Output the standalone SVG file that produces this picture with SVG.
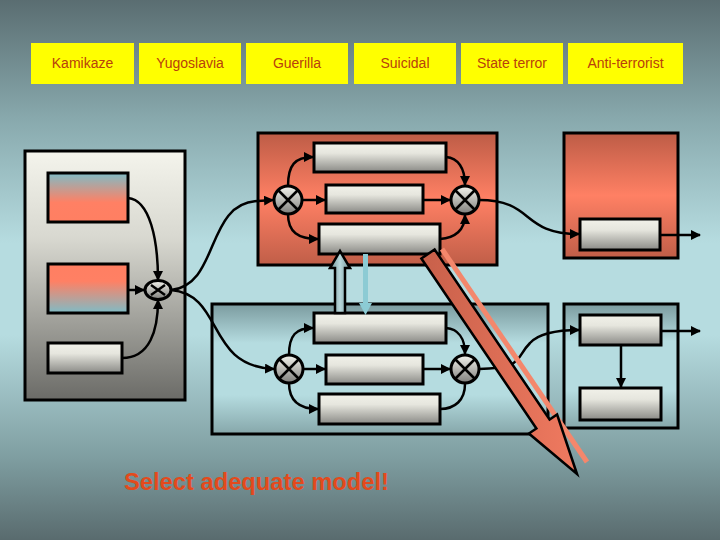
<svg xmlns="http://www.w3.org/2000/svg" width="720" height="540" viewBox="0 0 720 540">
<defs>
<linearGradient id="bg" x1="0" y1="0" x2="0" y2="1">
<stop offset="0" stop-color="#5a6d71"/><stop offset="0.22" stop-color="#88a9ad"/><stop offset="0.45" stop-color="#b6dce0"/><stop offset="0.62" stop-color="#b6dce0"/><stop offset="0.85" stop-color="#7e9da0"/><stop offset="1" stop-color="#596b6e"/>
</linearGradient>
<linearGradient id="gray" x1="0" y1="0" x2="0" y2="1"><stop offset="0" stop-color="#f4f4ec"/><stop offset="0.35" stop-color="#d8d8d0"/><stop offset="1" stop-color="#6b6b67"/></linearGradient>
<linearGradient id="red" x1="0" y1="0" x2="0" y2="1"><stop offset="0" stop-color="#bd5c46"/><stop offset="0.5" stop-color="#ff8064"/><stop offset="1" stop-color="#c05e48"/></linearGradient>
<linearGradient id="teal" x1="0" y1="0" x2="0" y2="1"><stop offset="0" stop-color="#7b9b9f"/><stop offset="0.3" stop-color="#b5dce0"/><stop offset="0.7" stop-color="#b5dce0"/><stop offset="1" stop-color="#86a7aa"/></linearGradient>
<linearGradient id="box" x1="0" y1="0" x2="0" y2="1"><stop offset="0" stop-color="#f2f2ea"/><stop offset="0.35" stop-color="#e6e6de"/><stop offset="1" stop-color="#8a8a86"/></linearGradient>
<linearGradient id="bluered" x1="0" y1="0" x2="0" y2="1"><stop offset="0" stop-color="#7fbcc6"/><stop offset="0.6" stop-color="#ff8064"/><stop offset="1" stop-color="#ff7f62"/></linearGradient>
<linearGradient id="redblue" x1="0" y1="0" x2="0" y2="1"><stop offset="0" stop-color="#ff7f62"/><stop offset="0.35" stop-color="#ff8064"/><stop offset="1" stop-color="#7fbcc6"/></linearGradient>
<linearGradient id="circ" x1="0" y1="0" x2="0" y2="1"><stop offset="0" stop-color="#f4f4ee"/><stop offset="1" stop-color="#7d7d7a"/></linearGradient>
<linearGradient id="bigarrow" x1="0" y1="0" x2="1" y2="0"><stop offset="0" stop-color="#c8604a"/><stop offset="1" stop-color="#f07a60"/></linearGradient>
<linearGradient id="uparrow" x1="0" y1="0" x2="1" y2="0"><stop offset="0" stop-color="#6f9094"/><stop offset="0.5" stop-color="#b8d8dc"/><stop offset="1" stop-color="#6f9094"/></linearGradient>
<marker id="ah" viewBox="0 0 10 10" refX="9" refY="5" markerWidth="4" markerHeight="4" orient="auto" markerUnits="strokeWidth"><path d="M0,0 L10,5 L0,10 z" fill="#000"/></marker>
<style>
.hdr{fill:#ffff00}
.ht{font-family:"Liberation Sans",Arial,sans-serif;font-size:14px;fill:#b8400c;text-anchor:middle}
.frame{stroke:#000;stroke-width:3}
.ib{fill:url(#box);stroke:#000;stroke-width:3}
.c{fill:none;stroke:#000;stroke-width:2.5;marker-end:url(#ah)}
.cn{fill:none;stroke:#000;stroke-width:2.5}
.x{stroke:#000;stroke-width:2.5}
.cr{fill:url(#circ);stroke:#000;stroke-width:3}
</style>
</defs>
<rect x="0" y="0" width="720" height="540" fill="url(#bg)"/>

<g id="headers">
<g id="h-kamikaze"><rect class="hdr" x="31" y="43" width="103" height="41"/><text class="ht" x="82.5" y="68">Kamikaze</text></g>
<g id="h-yugoslavia"><rect class="hdr" x="139" y="43" width="102" height="41"/><text class="ht" x="190" y="68">Yugoslavia</text></g>
<g id="h-guerilla"><rect class="hdr" x="246" y="43" width="102" height="41"/><text class="ht" x="297" y="68">Guerilla</text></g>
<g id="h-suicidal"><rect class="hdr" x="354" y="43" width="102" height="41"/><text class="ht" x="405" y="68">Suicidal</text></g>
<g id="h-state"><rect class="hdr" x="461" y="43" width="102" height="41"/><text class="ht" x="512" y="68">State terror</text></g>
<g id="h-anti"><rect class="hdr" x="568" y="43" width="115" height="41"/><text class="ht" x="625.5" y="68">Anti-terrorist</text></g>
</g>

<g id="left-panel">
<rect class="frame" x="25" y="151" width="160" height="249" fill="url(#gray)"/>
<rect x="48" y="173" width="80" height="49" fill="url(#bluered)" stroke="#000" stroke-width="3"/>
<rect x="48" y="264" width="80" height="49" fill="url(#redblue)" stroke="#000" stroke-width="3"/>
<rect class="ib" x="48" y="343" width="74" height="30"/>
</g>

<g id="top-red">
<rect class="frame" x="258" y="133" width="239" height="132" fill="url(#red)"/>
<rect class="ib" x="314" y="143" width="132" height="29"/>
<rect class="ib" x="326" y="185" width="97" height="28"/>
<rect class="ib" x="319" y="224" width="121" height="30"/>
</g>

<g id="right-red">
<rect class="frame" x="564" y="133" width="114" height="125" fill="url(#red)"/>
<rect class="ib" x="580" y="219" width="80" height="31"/>
</g>

<g id="lower-mid">
<rect class="frame" x="212" y="304" width="336" height="130" fill="url(#teal)"/>
<rect class="ib" x="314" y="313" width="132" height="30"/>
<rect class="ib" x="326" y="355" width="97" height="29"/>
<rect class="ib" x="319" y="394" width="121" height="30"/>
</g>

<g id="lower-right">
<rect class="frame" x="564" y="304" width="114" height="124" fill="url(#teal)"/>
<rect class="ib" x="580" y="315" width="81" height="30"/>
<rect class="ib" x="580" y="388" width="81" height="32"/>
</g>

<g id="connectors">
<path class="c" d="M128,198 C150,200 158,240 158,280"/>
<path class="c" d="M128,290 L144,290"/>
<path class="c" d="M122,358 C150,358 158,330 158,300"/>
<path class="cn" d="M171,290 C220,285 205,203 258,201"/>
<path class="c" d="M258,201 L273,200"/>
<path class="c" d="M171,290 C225,295 205,366 274,369"/>

<path class="c" d="M288,186 C288,165 295,157 313,157"/>
<path class="c" d="M302,200 L325,200"/>
<path class="c" d="M288,214 C288,232 298,239 318,239"/>
<path class="c" d="M446,157 C458,158 465,168 465,185"/>
<path class="c" d="M423,200 L450,200"/>
<path class="c" d="M440,239 C455,238 465,230 465,215"/>
<path class="c" d="M479,200 C535,200 520,234 579,234"/>
<path class="c" d="M660,235 L700,235"/>

<path class="c" d="M289,355 C289,335 296,328 313,328"/>
<path class="c" d="M303,369 L325,369"/>
<path class="c" d="M289,383 C289,400 298,409 318,409"/>
<path class="c" d="M446,328 C458,329 465,338 465,354"/>
<path class="c" d="M423,369 L450,369"/>
<path class="cn" d="M440,409 C455,409 465,400 465,384"/>
<path class="c" d="M479,369 C525,368 515,358 530,343 C540,332 560,330 579,330"/>
<path class="c" d="M661,331 L700,331"/>
<path class="c" d="M621,345 L621,387"/>
</g>

<g id="mixers">
<g id="m0"><ellipse class="cr" cx="158" cy="290" rx="13" ry="9.5"/><path class="x" d="M151,285 L165,295 M151,295 L165,285"/></g>
<g id="m1"><circle class="cr" cx="288" cy="200" r="14"/><path class="x" d="M278,190 L298,210 M278,210 L298,190"/></g>
<g id="m2"><circle class="cr" cx="465" cy="200" r="14"/><path class="x" d="M455,190 L475,210 M455,210 L475,190"/></g>
<g id="m3"><circle class="cr" cx="289" cy="369" r="14"/><path class="x" d="M279,359 L299,379 M279,379 L299,359"/></g>
<g id="m4"><circle class="cr" cx="465" cy="369" r="14"/><path class="x" d="M455,359 L475,379 M455,379 L475,359"/></g>
</g>

<g id="transfer-arrows">
<polygon points="335,313 335,268 330,268 340,251 350,268 345,268 345,313" fill="url(#uparrow)" stroke="#000" stroke-width="2.5"/>
<polygon points="363,254 368,254 368,303 372,303 365.5,315 359,303 363,303" fill="#8ccbd4"/>
<line x1="442" y1="249" x2="587" y2="462" stroke="#f4876c" stroke-width="5"/>
<polygon points="421.4,258.5 434.6,249.5 549.6,419.5 557.1,414.5 577,474 528.9,433.5 536.4,428.5" fill="url(#bigarrow)" stroke="#000" stroke-width="2.5" stroke-linejoin="miter"/>
</g>

<text x="124" y="490" font-family="'Liberation Sans',Arial,sans-serif" font-size="23" font-weight="bold" fill="#e34a1c" textLength="265" lengthAdjust="spacingAndGlyphs">Select adequate model!</text>
</svg>
